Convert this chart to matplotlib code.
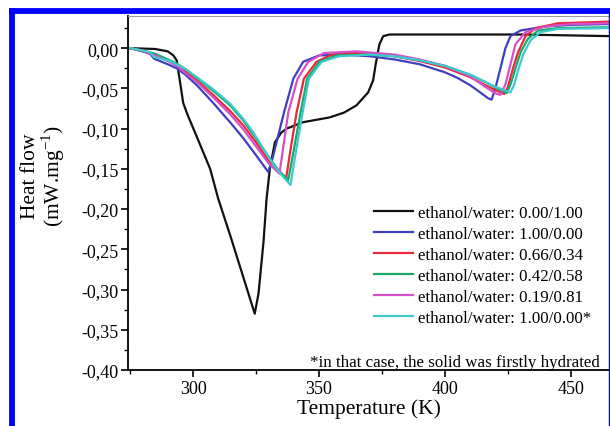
import matplotlib
matplotlib.use("Agg")
import matplotlib.pyplot as plt
from matplotlib.ticker import MultipleLocator, FuncFormatter
from matplotlib.lines import Line2D

plt.rcParams['font.family'] = ['Liberation Serif', 'DejaVu Serif']

# DSC curves (T in K, heat flow in mW/mg)
black_T = [275, 285, 290, 292.2, 293.5, 295, 296.1, 298, 301.5, 306.8, 310, 315, 320, 323, 324.5,
           326, 328, 329.2, 330.5, 332.5, 335, 337.1, 343.7, 354.3, 360, 364.9, 369.5, 371.5,
           372.5, 374, 375.5, 378, 400, 430, 465]
black_HF = [0.000, -0.001, -0.004, -0.009, -0.015, -0.045, -0.068, -0.084, -0.110, -0.150, -0.187,
            -0.235, -0.285, -0.315, -0.330, -0.305, -0.240, -0.187, -0.150, -0.117, -0.105, -0.100,
            -0.092, -0.086, -0.080, -0.071, -0.055, -0.040, -0.020, 0.005, 0.015, 0.017, 0.017,
            0.017, 0.015]

blue_T = [275, 280, 283, 284.5, 290, 293.5, 297, 301.5, 308, 314.7, 320, 325, 329.9, 331.8,
          336.1, 339.8, 343.7, 350, 360, 370, 380, 390, 400, 405, 410, 414, 417, 418.5, 420, 422,
          424, 426, 430, 440, 450, 465]
blue_HF = [0, -0.004, -0.007, -0.013, -0.020, -0.025, -0.033, -0.046, -0.068, -0.092, -0.112,
           -0.133, -0.154, -0.134, -0.080, -0.038, -0.017, -0.009, -0.008, -0.010, -0.014, -0.020,
           -0.030, -0.037, -0.046, -0.055, -0.062, -0.064, -0.050, -0.025, 0.000, 0.015, 0.022,
           0.027, 0.029, 0.030]

red_T = [275, 280, 285, 290, 293.5, 297, 301.5, 308, 314.7, 320, 325, 330, 334, 337, 338.5,
         341.1, 344, 349, 355, 360, 370, 380, 390, 400, 410, 416, 420, 423.5, 425, 427, 429, 432,
         436, 445, 465]
red_HF = [0, -0.003, -0.008, -0.015, -0.021, -0.029, -0.040, -0.058, -0.078, -0.096, -0.117,
          -0.140, -0.154, -0.161, -0.130, -0.080, -0.038, -0.017, -0.008, -0.006, -0.006, -0.010,
          -0.016, -0.024, -0.036, -0.046, -0.052, -0.057, -0.048, -0.025, -0.005, 0.015, 0.025,
          0.031, 0.033]

green_T = [275, 280, 285, 290, 293.5, 297, 301.5, 308, 314.7, 320, 325, 330, 334, 337.8, 339.8,
           342.7, 345.3, 350.1, 357, 370, 380, 390, 400, 410, 416, 420, 424.5, 426, 428, 430, 433,
           437, 445, 465]
green_HF = [0, -0.003, -0.007, -0.014, -0.019, -0.026, -0.037, -0.053, -0.071, -0.090, -0.112,
            -0.135, -0.152, -0.164, -0.130, -0.080, -0.038, -0.017, -0.009, -0.008, -0.010, -0.015,
            -0.022, -0.033, -0.042, -0.049, -0.056, -0.045, -0.025, -0.005, 0.012, 0.022, 0.025,
            0.026]

mag_T = [275, 280, 285, 290, 293.5, 297, 301.5, 308, 314.7, 320, 325, 330, 334.3, 335.5, 337.8,
         341.5, 345.7, 352, 365, 380, 390, 400, 410, 416, 420, 422, 424, 426, 428, 432, 440, 450,
         465]
mag_HF = [0, -0.003, -0.009, -0.016, -0.022, -0.031, -0.042, -0.061, -0.082, -0.101, -0.122,
          -0.143, -0.156, -0.130, -0.080, -0.038, -0.017, -0.006, -0.004, -0.008, -0.014, -0.022,
          -0.035, -0.048, -0.056, -0.058, -0.045, -0.020, 0.005, 0.020, 0.027, 0.030, 0.031]

cyan_T = [275, 280, 283, 284.5, 290, 293.5, 297, 301.5, 308, 314.7, 320, 324, 327.9, 332, 335,
          338.7, 340.5, 343.5, 346, 351, 358, 370, 380, 390, 400, 410, 416, 420, 426, 427.5, 429,
          431, 434, 438, 445, 465]
cyan_HF = [0, -0.003, -0.005, -0.011, -0.015, -0.020, -0.026, -0.036, -0.051, -0.069, -0.088,
           -0.105, -0.125, -0.145, -0.157, -0.170, -0.135, -0.080, -0.038, -0.017, -0.010, -0.008,
           -0.010, -0.015, -0.022, -0.033, -0.042, -0.048, -0.055, -0.045, -0.028, -0.008, 0.010,
           0.020, 0.024, 0.025]

labels = ['ethanol/water: 0.00/1.00', 'ethanol/water: 1.00/0.00', 'ethanol/water: 0.66/0.34',
          'ethanol/water: 0.42/0.58', 'ethanol/water: 0.19/0.81', 'ethanol/water: 1.00/0.00*']
colors = ['#111111', '#3f3fc0', '#e8283c', '#17a86a', '#d650c8', '#3ec9cc']

fig = plt.figure(figsize=(6.1, 4.27), dpi=100)
ax = fig.add_axes([128 / 610, 56 / 427, 482 / 610, 354 / 427])

series = [(black_T, black_HF), (blue_T, blue_HF), (red_T, red_HF),
          (green_T, green_HF), (mag_T, mag_HF), (cyan_T, cyan_HF)]
for (t, hf), c, lab in zip(series, colors, labels):
    ax.plot(t, hf, color=c, lw=1.6, label=lab)

ax.set_xlim(274.2, 465.5)
ax.set_ylim(-0.40, 0.04)
ax.xaxis.set_major_locator(MultipleLocator(50))
ax.xaxis.set_minor_locator(MultipleLocator(25))
ax.yaxis.set_major_locator(MultipleLocator(0.05))
ax.yaxis.set_minor_locator(MultipleLocator(0.025))
ax.yaxis.set_major_formatter(FuncFormatter(lambda v, p: ('%.2f' % v).replace('.', ',').replace('-0,00', '0,00')))
ax.tick_params(which='major', direction='out', length=5, width=1.2, labelsize=13, pad=2)
ax.tick_params(which='minor', direction='out', length=3, width=1.0)

ax.spines['right'].set_visible(False)
ax.spines['top'].set_color('#9a9a9a')
ax.spines['top'].set_linewidth(0.8)
ax.spines['left'].set_linewidth(1.3)
ax.spines['bottom'].set_linewidth(1.3)

ax.set_xlabel('Temperature (K)', fontsize=15.5, labelpad=1)
ax.set_ylabel('Heat flow\n(mW.mg$^{\\mathregular{-1}}$)', fontsize=15.5, linespacing=0.95)
ax.yaxis.set_label_coords(-0.127, 0.55)

ax.legend(loc='upper left', bbox_to_anchor=(0.510, 0.466), frameon=False, fontsize=12.2,
          handlelength=2.3, handletextpad=0.3, labelspacing=0.29, borderpad=0, borderaxespad=0)

ax.text(0.979, 0.011, '*in that case, the solid was firstly hydrated', transform=ax.transAxes,
        ha='right', va='baseline', fontsize=12.2)

# blue frame around the figure
fig.add_artist(Line2D([11.5 / 610, 11.5 / 610], [0, 1 - 9 / 427], color='#0000ff', lw=4.2,
                      transform=fig.transFigure, solid_capstyle='butt'))
fig.add_artist(Line2D([9 / 610, 1], [1 - 12 / 427, 1 - 12 / 427], color='#0000ff', lw=4.2,
                      transform=fig.transFigure, solid_capstyle='butt'))
fig.add_artist(Line2D([609.5 / 610, 609.5 / 610], [0, 1 - 9 / 427], color='#0000ff', lw=2.5,
                      transform=fig.transFigure, solid_capstyle='butt'))

fig.savefig('out.png', dpi=100)
